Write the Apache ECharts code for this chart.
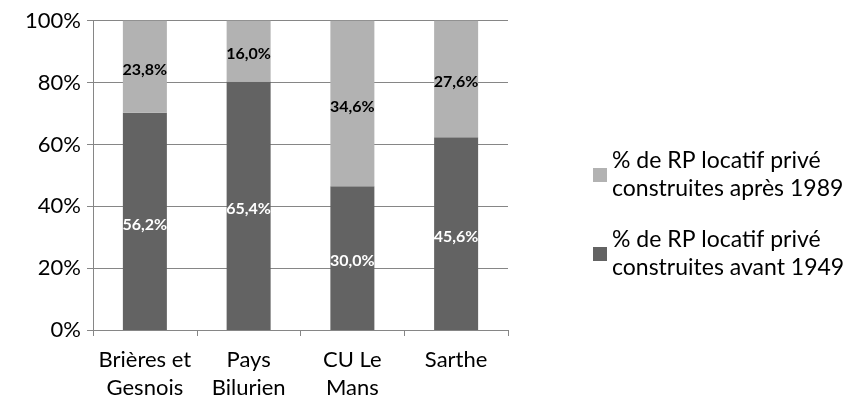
<!DOCTYPE html>
<html><head><meta charset="utf-8">
<script src="https://cdn.jsdelivr.net/npm/echarts@6/dist/echarts.min.js"></script>
<style>html,body{margin:0;padding:0;background:#fff}#c{width:859px;height:407px}</style>
</head><body><div id="c"></div>
<script>
const categories = ['Brières et\nGesnois', 'Pays\nBilurien', 'CU Le\nMans', 'Sarthe'];
const avant1949 = [56.2, 65.4, 30.0, 45.6];
const apres1989 = [23.8, 16.0, 34.6, 27.6];
const yTicks = [0, 20, 40, 60, 80, 100];
const nameAvant = '% de RP locatif privé\nconstruites avant 1949';
const nameApres = '% de RP locatif privé\nconstruites après 1989';

const totals = avant1949.map((v, i) => v + apres1989[i]);
const fmt = v => v.toFixed(1).replace('.', ',') + '%';
const font = 'Lato, "Open Sans", sans-serif';

const chart = echarts.init(document.getElementById('c'), null, {renderer: 'canvas'});
chart.setOption({
  animation: false,
  textStyle: {fontFamily: font},
  grid: {left: 93, right: 351, top: 20.7, bottom: 77, containLabel: false},
  legend: {
    orient: 'vertical', left: 588, top: 142,
    data: [nameApres, nameAvant],
    icon: 'rect', itemWidth: 14, itemHeight: 14, itemGap: 23,
    textStyle: {fontFamily: font, fontSize: 23, color: '#000', lineHeight: 28}
  },
  xAxis: {
    type: 'category', data: categories,
    axisLine: {lineStyle: {color: '#868686'}},
    axisTick: {show: true, length: 6, lineStyle: {color: '#868686'}},
    axisLabel: {fontFamily: font, fontSize: 22, color: '#000', lineHeight: 28, margin: 16, interval: 0}
  },
  yAxis: {
    type: 'value', min: 0, max: 100, interval: 20,
    axisLine: {show: true, lineStyle: {color: '#868686'}},
    axisTick: {show: true, length: 6, lineStyle: {color: '#868686'}},
    splitLine: {lineStyle: {color: '#868686'}},
    axisLabel: {fontFamily: font, fontSize: 22, color: '#000', margin: 12,
      formatter: v => yTicks.includes(v) ? v + '%' : ''}
  },
  series: [
    {
      name: nameAvant, type: 'bar', stack: 's', barWidth: 44,
      itemStyle: {color: '#636363'},
      data: avant1949.map((v, i) => v / totals[i] * 100),
      label: {show: true, position: 'inside', offset: [0, 3], color: '#fff', fontWeight: 'bold', fontSize: 16,
        fontFamily: font, formatter: p => fmt(avant1949[p.dataIndex])}
    },
    {
      name: nameApres, type: 'bar', stack: 's', barWidth: 44,
      itemStyle: {color: '#b2b2b2'},
      data: apres1989.map((v, i) => v / totals[i] * 100),
      label: {show: true, position: 'inside', offset: [0, 3], color: '#000', fontWeight: 'bold', fontSize: 16,
        fontFamily: font, formatter: p => fmt(apres1989[p.dataIndex])}
    }
  ]
});
</script></body></html>
